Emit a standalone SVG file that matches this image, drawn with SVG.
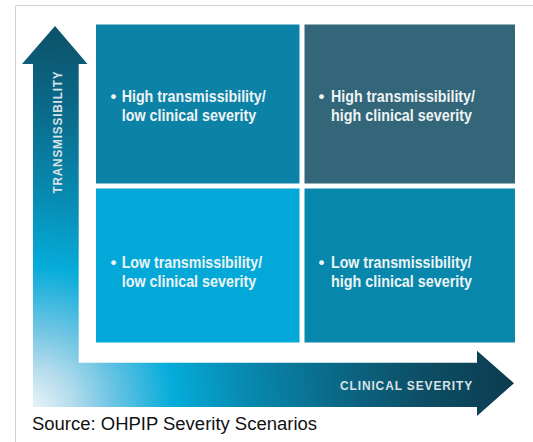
<svg xmlns="http://www.w3.org/2000/svg" width="533" height="442" viewBox="0 0 533 442">
  <defs>
    <radialGradient id="axisGrad" gradientUnits="userSpaceOnUse" cx="33" cy="407" r="485">
      <stop offset="0" stop-color="#e6f3f8"/>
      <stop offset="0.08" stop-color="#b5dcec"/>
      <stop offset="0.17" stop-color="#68c3e3"/>
      <stop offset="0.29" stop-color="#05acda"/>
      <stop offset="0.43" stop-color="#078cb3"/>
      <stop offset="0.6" stop-color="#0a6d8d"/>
      <stop offset="0.8" stop-color="#0d4f66"/>
      <stop offset="1" stop-color="#0c3b4e"/>
    </radialGradient>
  </defs>
  <style>
    .q text { font-family: "Liberation Sans", Arial, sans-serif; font-weight: bold; font-size: 17px; fill: #eef3f5; }
    .axis { font-family: "Liberation Sans", Arial, sans-serif; font-weight: bold; font-size: 12px; fill: #d9e2e6; letter-spacing: 0.9px; }
    .src { font-family: "Liberation Sans", Arial, sans-serif; font-size: 17.5px; fill: #111111; }
  </style>
  <rect x="0" y="0" width="533" height="442" fill="#ffffff"/>
  <path d="M15.5,442 V5.5 H533" fill="none" stroke="#d2d2d2" stroke-width="1"/>

  <g id="connectors">
    <path id="axes" d="M55,26 L87.5,64 L78.7,64 L78.7,362.7 L477,362.7 L477,350.7 L514,383.3 L477,416 L477,407 L33,407 L33,64 L22,64 Z" fill="url(#axisGrad)"/>
    <text class="axis" transform="translate(61.5,132) rotate(-90)" text-anchor="middle" textLength="123" lengthAdjust="spacingAndGlyphs">TRANSMISSIBILITY</text>
    <text class="axis" x="340" y="390" textLength="133" lengthAdjust="spacingAndGlyphs">CLINICAL SEVERITY</text>
  </g>

  <g id="q-high-low" class="q">
    <rect x="96" y="24.5" width="203.5" height="159" fill="#0b82a6"/>
    <text x="113.5" y="102" text-anchor="middle">•</text>
    <text x="121.7" y="102" textLength="144" lengthAdjust="spacingAndGlyphs">High transmissibility/</text>
    <text x="121.7" y="121" textLength="134.5" lengthAdjust="spacingAndGlyphs">low clinical severity</text>
  </g>

  <g id="q-high-high" class="q">
    <rect x="304.5" y="24.5" width="210.5" height="159" fill="#336678"/>
    <text x="321.5" y="102" text-anchor="middle">•</text>
    <text x="331" y="102" textLength="144" lengthAdjust="spacingAndGlyphs">High transmissibility/</text>
    <text x="331" y="121" textLength="141" lengthAdjust="spacingAndGlyphs">high clinical severity</text>
  </g>

  <g id="q-low-low" class="q">
    <rect x="96" y="188.5" width="203.5" height="154" fill="#02a9d8"/>
    <text x="113.5" y="267.5" text-anchor="middle">•</text>
    <text x="121.7" y="267.5" textLength="140.5" lengthAdjust="spacingAndGlyphs">Low transmissibility/</text>
    <text x="121.7" y="287" textLength="134.5" lengthAdjust="spacingAndGlyphs">low clinical severity</text>
  </g>

  <g id="q-low-high" class="q">
    <rect x="304.5" y="188.5" width="210.5" height="154" fill="#0787ab"/>
    <text x="321.5" y="267.5" text-anchor="middle">•</text>
    <text x="331" y="267.5" textLength="140.5" lengthAdjust="spacingAndGlyphs">Low transmissibility/</text>
    <text x="331" y="287" textLength="141" lengthAdjust="spacingAndGlyphs">high clinical severity</text>
  </g>

  <g id="source">
    <text class="src" x="32" y="430" textLength="285" lengthAdjust="spacingAndGlyphs">Source: OHPIP Severity Scenarios</text>
  </g>
</svg>
